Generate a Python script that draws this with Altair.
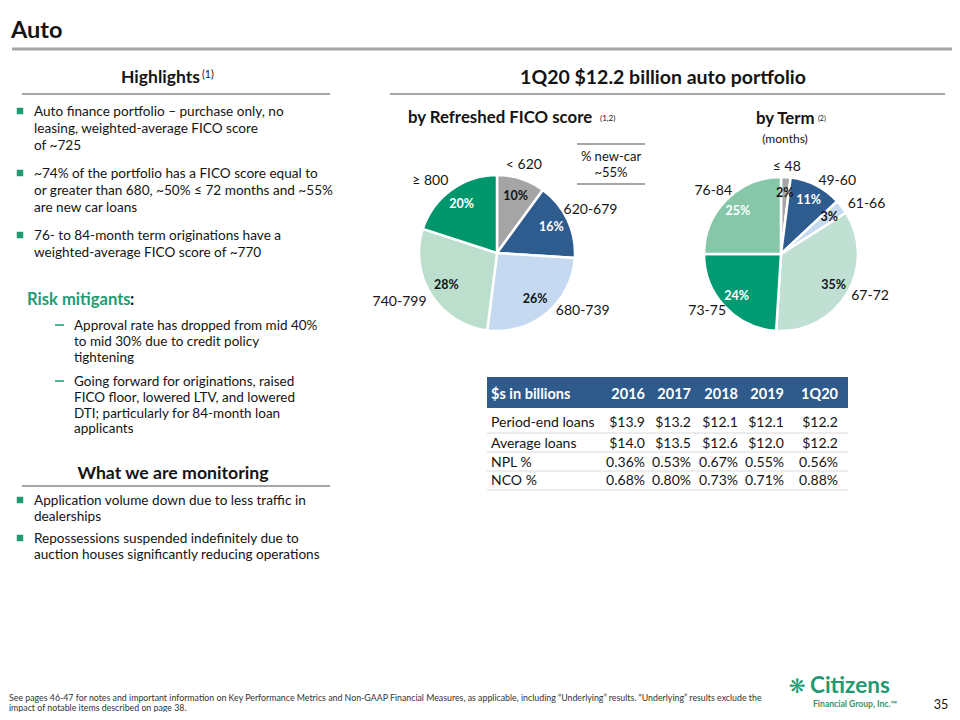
import altair as alt
import pandas as pd

# ---------------- data ----------------
fico_cats = ["< 620", "620-679", "680-739", "740-799", "\u2265 800"]
fico_vals = [10, 16, 26, 28, 20]

term_cats = ["\u2264 48", "49-60", "61-66", "67-72", "73-75", "76-84"]
term_vals = [2, 11, 3, 35, 24, 25]

table_cols = ["2016", "2017", "2018", "2019", "1Q20"]
row_labels = ["Period-end loans", "Average loans", "NPL %", "NCO %"]
period_end_loans = [13.9, 13.2, 12.1, 12.1, 12.2]
average_loans = [14.0, 13.5, 12.6, 12.0, 12.2]
npl_pct = [0.36, 0.53, 0.67, 0.55, 0.56]
nco_pct = [0.68, 0.80, 0.73, 0.71, 0.88]

# ---------------- styles ----------------
FONT = "Lato, 'DejaVu Sans', sans-serif"
DARK = "#141414"
GREEN = "#1F9A73"
GRAY_LINE = "#A6A6A6"
BLUE_HDR = "#2E5A8C"
OFF = 8  # page margin

fico_colors = ["#A5A5A5", "#2F5C8F", "#C5D9F1", "#BBDECD", "#00966B"]
term_colors = ["#A5A5A5", "#2F5C8F", "#C5D9F1", "#BFE0D3", "#009B72", "#86C7A9"]
white_text = ["620-679", "\u2265 800", "49-60", "73-75", "76-84"]

# label nudges (dx, dy) for the outside pie labels
fico_nudge = [(-4, 7), (3, 0), (22, -19), (-13, -5), (-8, 9)]
term_nudge = [(0, 6), (14, 10), (12, 7), (9, -5), (-6, -7), (-2, 3)]

one = alt.Data(values=[{}])
layers = []


def T(text, x, y, size=13, bold=False, color=DARK, align="left", font=FONT):
    return alt.Chart(one).mark_text(
        fontSize=size, fontWeight="bold" if bold else "normal", color=color,
        align=align, baseline="alphabetic", font=font
    ).encode(x=alt.value(x - OFF), y=alt.value(y - OFF), text=alt.value(text))


def R(x1, x2, y, color=GRAY_LINE, w=2):
    return alt.Chart(one).mark_rule(color=color, strokeWidth=w).encode(
        x=alt.value(x1 - OFF), x2=alt.value(x2 - OFF), y=alt.value(y - OFF))


def SQ(x, y, color=GREEN):
    return alt.Chart(one).mark_square(size=42, color=color, opacity=1, filled=True).encode(
        x=alt.value(x - OFF), y=alt.value(y - OFF))


def RECT(x1, x2, y1, y2, color):
    return alt.Chart(one).mark_rect(color=color).encode(
        x=alt.value(x1 - OFF), x2=alt.value(x2 - OFF),
        y=alt.value(y1 - OFF), y2=alt.value(y2 - OFF))


# ---------------- header ----------------
layers.append(T("Auto", 11, 38, size=23.5, bold=True))
layers.append(R(12, 952, 49, w=3))
layers.append(T("Highlights", 121, 83, size=17.5, bold=True))
layers.append(T("(1)", 202, 78, size=10.5))
layers.append(R(22, 330, 94))
layers.append(T("1Q20 $12.2 billion auto portfolio", 663, 84, size=19.5, bold=True, align="center"))
layers.append(R(390, 945, 94))

# ---------------- left column ----------------
BS = 13.6
bullets = [
    (["Auto finance portfolio \u2013 purchase only, no",
      "leasing, weighted-average FICO score", "of ~725"], 116),
    (["~74% of the portfolio has a FICO score equal to",
      "or greater than 680, ~50% \u2264 72 months and ~55%", "are new car loans"], 178),
    (["76- to 84-month term originations have a",
      "weighted-average FICO score of ~770"], 240),
]
for lines, y0 in bullets:
    layers.append(SQ(20, y0 - 5))
    for i, ln in enumerate(lines):
        layers.append(T(ln, 34, y0 + i * 17, size=BS))

layers.append(T("Risk mitigants", 27, 305, size=16.6, bold=True, color=GREEN))
layers.append(T(":", 130, 305, size=16.6, bold=True))
risk = [
    (["Approval rate has dropped from mid 40%", "to mid 30% due to credit policy",
      "tightening"], 330),
    (["Going forward for originations, raised", "FICO floor, lowered LTV, and lowered",
      "DTI; particularly for 84-month loan", "applicants"], 386),
]
for lines, y0 in risk:
    layers.append(R(55, 64, y0 - 5, color=GREEN, w=1.5))
    for i, ln in enumerate(lines):
        layers.append(T(ln, 74, y0 + i * 15.8, size=13.5))

layers.append(T("What we are monitoring", 173, 479, size=17.7, bold=True, align="center"))
layers.append(R(22, 330, 486))
mon = [
    (["Application volume down due to less traffic in", "dealerships"], 505),
    (["Repossessions suspended indefinitely due to",
      "auction houses significantly reducing operations"], 543),
]
for lines, y0 in mon:
    layers.append(SQ(20, y0 - 5))
    for i, ln in enumerate(lines):
        layers.append(T(ln, 34, y0 + i * 16, size=BS))

# ---------------- pie titles ----------------
layers.append(T("by Refreshed FICO score", 408, 123, size=16.8, bold=True))
layers.append(T("(1,2)", 600, 121, size=8))
layers.append(R(577, 645, 144))
layers.append(T("% new-car", 611, 161, size=13, align="center"))
layers.append(T("~55%", 611, 177, size=13, align="center"))
layers.append(R(577, 645, 184))
layers.append(T("by Term", 756, 124, size=16.8, bold=True))
layers.append(T("(2)", 818, 121, size=7))
layers.append(T("(months)", 785, 143, size=12, align="center"))

# ---------------- pies ----------------
color_scale = alt.Scale(domain=fico_cats + term_cats, range=fico_colors + term_colors)


def pie(cats, vals, cx, cy, r_out, r_in_lbl, r_out_lbl, nudges):
    df = pd.DataFrame({"cat": cats, "value": vals, "idx": list(range(len(cats)))})
    base = alt.Chart(df).transform_calculate(label="datum.value + '%'").encode(
        theta=alt.Theta("value:Q", stack=True),
        order=alt.Order("idx:Q", sort="ascending"),
        x=alt.value(cx - OFF), y=alt.value(cy - OFF),
    )
    arc = base.mark_arc(outerRadius=r_out, stroke="white", strokeWidth=2.5).encode(
        color=alt.Color("cat:N", scale=color_scale, legend=None))
    inner = base.mark_text(radius=r_in_lbl, fontSize=12.5, fontWeight="bold", font=FONT).encode(
        text="label:N",
        color=alt.condition(alt.FieldOneOfPredicate(field="cat", oneOf=white_text),
                            alt.value("white"), alt.value(DARK)))
    out = []
    lbl_base = alt.Chart(df).transform_window(
        cum="sum(value)", sort=[alt.SortField("idx", order="ascending")], frame=[None, 0]
    ).transform_joinaggregate(total="sum(value)").transform_calculate(
        frac="(datum.cum - datum.value / 2) / datum.total")
    for c, (dx, dy) in zip(cats, nudges):
        out.append(lbl_base.transform_filter(alt.FieldEqualPredicate(field="cat", equal=c))
                   .mark_text(radius=r_out_lbl, dx=dx, dy=dy, fontSize=14, font=FONT, color=DARK)
                   .encode(theta=alt.Theta("frac:Q", stack=False,
                                           scale=alt.Scale(domain=[0, 1], range=[0, 6.283185307])),
                           x=alt.value(cx - OFF), y=alt.value(cy - OFF), text="cat:N"))
    return [arc, inner] + out


layers += pie(fico_cats, fico_vals, 497, 253, 78, 60, 100, fico_nudge)
layers += pie(term_cats, term_vals, 781, 254, 77, 61, 93, term_nudge)

# ---------------- table ----------------
TX0, TX1 = 487, 848
layers.append(RECT(TX0, TX1, 377, 408, BLUE_HDR))
layers.append(T("$s in billions", 491, 399, size=14.5, bold=True, color="white"))
col_right = [645, 691, 738, 784, 838]
for c, xr in zip(table_cols, col_right):
    layers.append(T(c, xr, 399, size=14.5, bold=True, color="white", align="right"))

row_base = [427, 448, 467, 485]
for yl in [433, 452, 471, 490]:
    layers.append(R(TX0, TX1, yl, color="#DADADA", w=1))

recs = []
table_rows = [period_end_loans, average_loans, npl_pct, nco_pct]
for ri, (lab, vals) in enumerate(zip(row_labels, table_rows)):
    recs.append({"txt": lab, "px": 491 - OFF, "py": row_base[ri] - OFF, "al": "l"})
    for ci, v in enumerate(vals):
        s = f"${v:.1f}" if ri < 2 else f"{v:.2f}%"
        recs.append({"txt": s, "px": col_right[ci] - OFF, "py": row_base[ri] - OFF, "al": "r"})
tdf = pd.DataFrame(recs)
tbl_base = alt.Chart(tdf).encode(
    x=alt.X("px:Q", scale=None, axis=None),
    y=alt.Y("py:Q", scale=None, axis=None),
    text="txt:N")
layers.append(tbl_base.transform_filter("datum.al == 'l'").mark_text(
    align="left", baseline="alphabetic", fontSize=14, font=FONT, color=DARK))
layers.append(tbl_base.transform_filter("datum.al == 'r'").mark_text(
    align="right", baseline="alphabetic", fontSize=14, font=FONT, color=DARK))

# ---------------- footer ----------------
layers.append(T("See pages 46-47 for notes and important information on Key Performance Metrics and "
                "Non-GAAP Financial Measures, as applicable, including \u201cUnderlying\u201d results. "
                "\u201cUnderlying\u201d results exclude the", 9, 701, size=8.8, color="#333333"))
layers.append(T("impact of notable items described on page 38.", 9, 711, size=8.8, color="#333333"))
layers.append(T("\u274b", 797, 693, size=20, bold=True, color=GREEN, align="center",
                font="'DejaVu Sans'"))
layers.append(T("Citizens", 810, 693, size=22.5, bold=True, color=GREEN))
layers.append(T("Financial Group, Inc.\u2122", 813, 707, size=8.6, bold=True, color=GREEN))
layers.append(T("35", 941, 709, size=12.5, align="center"))

chart = alt.layer(*layers).properties(
    width=944, height=704, padding=0, autosize="none", background="white"
).resolve_scale(theta="independent").configure_view(stroke=None)

chart.save("out.html", embed_options={"renderer": "svg", "actions": False})
